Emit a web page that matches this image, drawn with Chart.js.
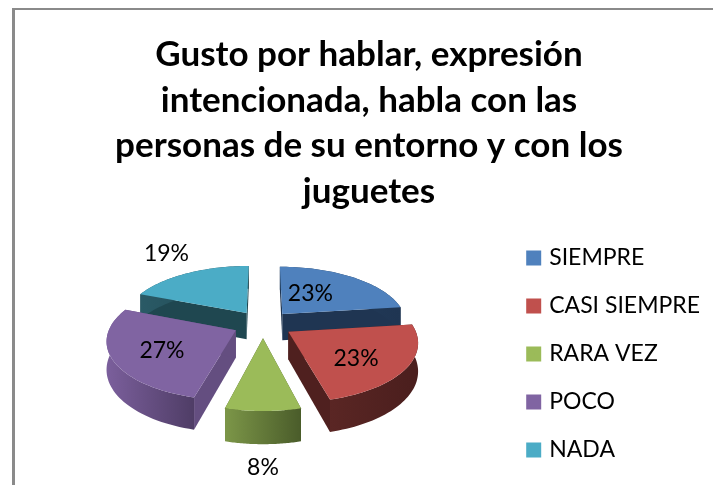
<!DOCTYPE html>
<html>
<head>
<meta charset="utf-8">
<title>Gusto por hablar</title>
<script src="https://cdn.jsdelivr.net/npm/chart.js@4"></script>
<style>
  html, body { margin: 0; padding: 0; background: #fff; overflow: hidden; width: 713px; height: 485px; }
  #frame { position: absolute; left: 12px; top: 8px; width: 712px; height: 483px; border-left: 3px solid #8a8a8a; border-top: 2px solid #8a8a8a; }
  canvas { display: block; }
</style>
</head>
<body>
<div id="frame"><canvas id="pie" width="712" height="481"></canvas></div>
<script>
const titleLines = ['Gusto por hablar, expresión', 'intencionada, habla con las', 'personas de su entorno y con los', 'juguetes'];
const categories = ['SIEMPRE', 'CASI SIEMPRE', 'RARA VEZ', 'POCO', 'NADA'];
const percents = [23, 23, 8, 27, 19];
const topColors = ['#4F81BD', '#C0504D', '#9BBB59', '#8064A2', '#4BACC6'];
const wallColors = ['#1F3552', '#4F201F', '#4A5C2A', '#644E80', '#1F4750'];
const rimLight = ['#24405F', '#5A2624', '#7C9648', '#7B5F9C', '#2A5A66'];
const rimDark = ['#1F3552', '#4A1E1D', '#4A5C2A', '#4F3D66', '#1F4750'];

// where each percent label sits, along its slice
const labelRadius = [89, 110, 228, 109, 222];
const labelTurn = [-6, 5, 0, -3, 2];

// fake 3D view of the pie plane, canvas coordinates
const view = { cx: 248, cy: 314, radius: 125, tilt: 0.457, dist: 833, depth: 27 };

function project(u, v, drop) {
  const k = view.dist / (view.dist - v);
  return {
    x: view.cx + u * k,
    y: view.cy + view.tilt * v * k + (drop || 0) * k
  };
}

function planePoint(arc, angle, r) {
  const mid = (arc.startAngle + arc.endAngle) / 2;
  const e = arc.options.offset;
  return {
    u: e * Math.cos(mid) + r * Math.cos(angle),
    v: e * Math.sin(mid) + r * Math.sin(angle)
  };
}

function rimPoints(arc, drop) {
  const pts = [];
  const steps = 48;
  for (let i = 0; i <= steps; i++) {
    const a = arc.startAngle + (arc.endAngle - arc.startAngle) * i / steps;
    const p = planePoint(arc, a, view.radius);
    pts.push(project(p.u, p.v, drop));
  }
  return pts;
}

function fillPoly(ctx, pts, fill) {
  ctx.beginPath();
  pts.forEach((p, i) => i ? ctx.lineTo(p.x, p.y) : ctx.moveTo(p.x, p.y));
  ctx.closePath();
  ctx.fillStyle = fill;
  ctx.fill();
}

const pie3d = {
  id: 'pie3d',
  beforeDatasetDraw() {
    return false; // flat arcs are replaced by the projected ones below
  },
  afterDatasetsDraw(chart) {
    const ctx = chart.ctx;
    const arcs = chart.getDatasetMeta(0).data;
    const order = arcs.map((arc, i) => i).sort((a, b) => {
      const pa = planePoint(arcs[a], 0, 0);
      const pb = planePoint(arcs[b], 0, 0);
      return pa.v - pb.v;
    });

    order.forEach(i => {
      const arc = arcs[i];
      const c = planePoint(arc, 0, 0);
      const apexTop = project(c.u, c.v, 0);
      const apexLow = project(c.u, c.v, view.depth);
      const top = rimPoints(arc, 0);
      const low = rimPoints(arc, view.depth);

      // cut walls
      fillPoly(ctx, [apexTop, top[0], low[0], apexLow], wallColors[i]);
      fillPoly(ctx, [apexTop, top[top.length - 1], low[low.length - 1], apexLow], wallColors[i]);

      // outer rim
      const xs = top.map(p => p.x);
      const grad = ctx.createLinearGradient(Math.min(...xs), 0, Math.max(...xs), 0);
      grad.addColorStop(0, rimLight[i]);
      grad.addColorStop(1, rimDark[i]);
      fillPoly(ctx, top.concat(low.slice().reverse()), grad);

      // top face
      fillPoly(ctx, [apexTop].concat(top), topColors[i]);
    });

    ctx.save();
    ctx.font = '23px Lato';
    ctx.fillStyle = '#000';
    ctx.textAlign = 'center';
    ctx.textBaseline = 'middle';
    arcs.forEach((arc, i) => {
      const mid = (arc.startAngle + arc.endAngle) / 2 + labelTurn[i] * Math.PI / 180;
      const p = project(labelRadius[i] * Math.cos(mid), labelRadius[i] * Math.sin(mid), 0);
      ctx.fillText(percents[i] + '%', p.x, p.y);
    });
    ctx.restore();
  }
};

new Chart(document.getElementById('pie'), {
  type: 'pie',
  data: {
    labels: categories,
    // the border only thickens the legend swatches, arcs are drawn by pie3d
    datasets: [{ data: percents, backgroundColor: topColors, borderColor: topColors, borderWidth: 7, offset: 30 }]
  },
  plugins: [pie3d],
  options: {
    responsive: false,
    animation: false,
    layout: { padding: { left: 13, right: 17 } },
    plugins: {
      tooltip: { enabled: false },
      title: {
        display: true,
        text: titleLines,
        color: '#000',
        font: { family: 'Lato', size: 35, weight: 'bold', lineHeight: 1.3 },
        padding: { top: 22, bottom: 3 }
      },
      legend: {
        position: 'right',
        fullSize: false,
        labels: {
          color: '#000',
          font: { family: 'Lato', size: 23 },
          boxWidth: 8,
          boxHeight: 8,
          padding: 25
        }
      }
    }
  }
});
</script>
</body>
</html>
